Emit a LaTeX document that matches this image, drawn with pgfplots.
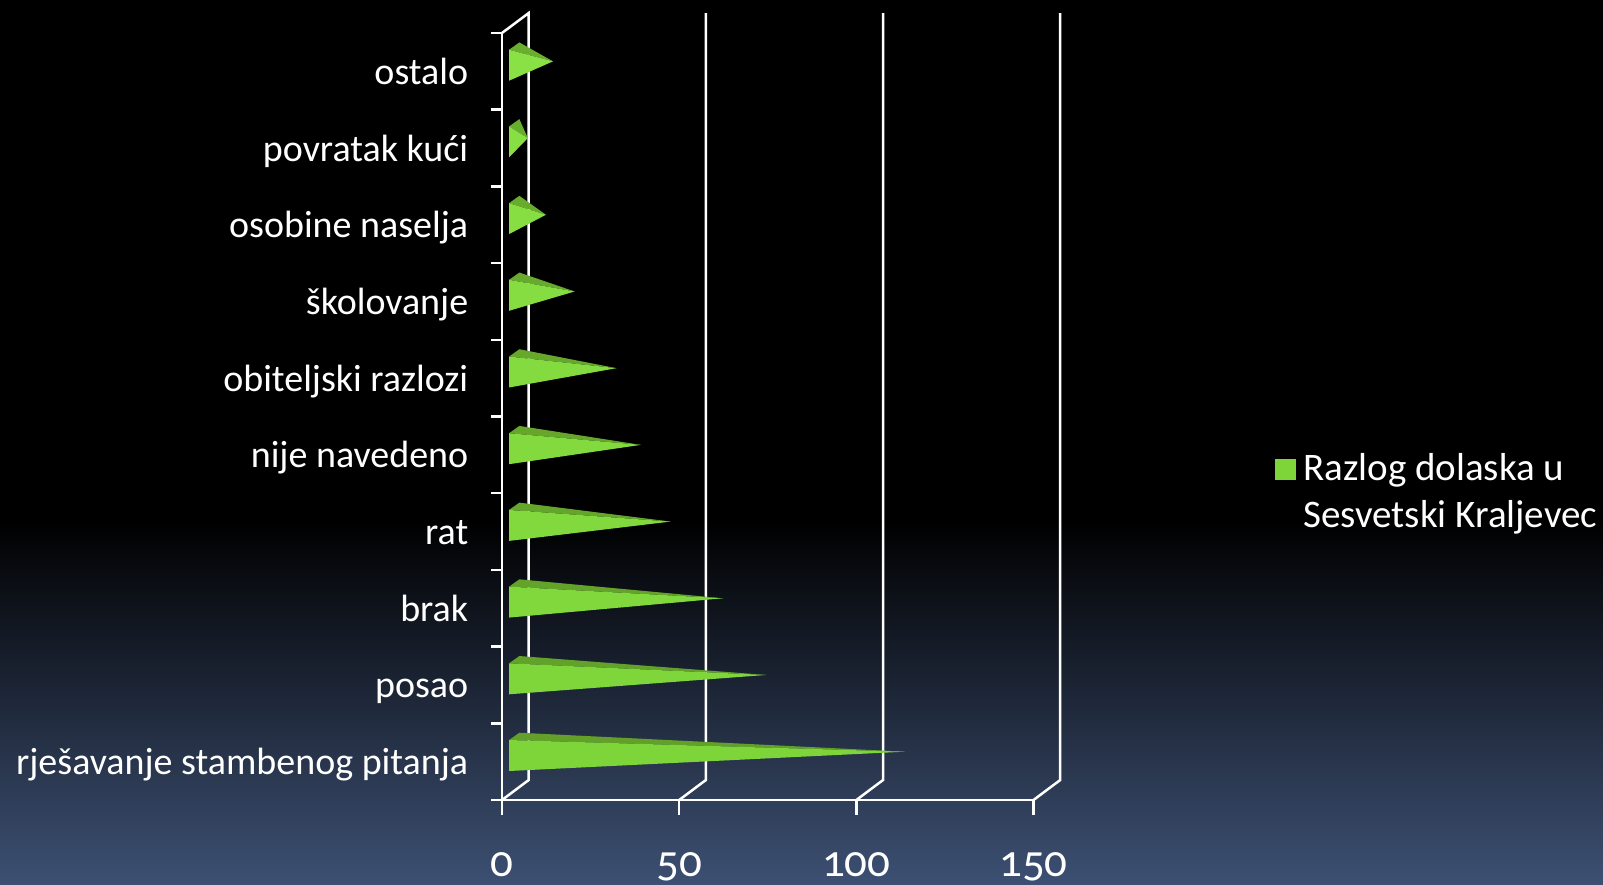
\documentclass[border=0pt]{standalone}
\usepackage{fontspec}
\setmainfont[Numbers=OldStyle]{Carlito}
\usepackage{pgfplots}
\pgfplotsset{compat=1.18}
\definecolor{bgbottom}{HTML}{3D5073}
\definecolor{frontlow}{HTML}{7DD53A}
\definecolor{fronthigh}{HTML}{8AE246}
\definecolor{toplow}{HTML}{62A029}
\definecolor{tophigh}{HTML}{6AB02F}
\pgfplotsset{
  front/.style={draw=none,fill=frontlow!#1!fronthigh,forget plot},
  roof/.style={draw=none,fill=toplow!#1!tophigh,forget plot},
  wall/.style={white,line width=2.5pt,forget plot},
}
\begin{document}
\begin{tikzpicture}[x=1pt,y=1pt]
\useasboundingbox (0,0) rectangle (1603,885);
\fill[black] (0,0) rectangle (1603,885);
\shade[top color=black,bottom color=bgbottom] (0,0) rectangle (1603,365);
\begin{axis}[
  at={(502pt,85pt)},anchor=south west,
  scale only axis,width=531.5pt,height=767pt,
  xmin=0,xmax=150,ymin=0,ymax=10,
  clip=false,
  axis lines=left,
  axis line style={white,line width=2.5pt,-},
  tick style={white,line width=2.5pt},
  tick align=outside,
  xtick={0,50,100,150},
  ytick={0,1,2,3,4,5,6,7,8,9,10},
  xtick style={/pgfplots/major tick length=15pt},
  ytick style={/pgfplots/major tick length=11pt},
  yticklabels={rješavanje stambenog pitanja,posao,brak,rat,nije navedeno,obiteljski razlozi,školovanje,osobine naselja,povratak kući,ostalo,{}},
  /pgf/number format/assume math mode=true,
  ticklabel style={text=white},
  xticklabel style={font=\fontsize{45}{50}\selectfont,yshift=-45pt},
  yticklabel style={font=\fontsize{38}{44}\selectfont,anchor=base east,xshift=-26pt,yshift=25.3pt},
  legend style={draw=none,fill=none,
    text=white,font=\fontsize{39}{47}\selectfont,
    nodes={align=left,inner ysep=0pt,inner xsep=7.5pt},legend cell align=left,
    anchor=north west,at={(axis cs:217.2,4.55)}},
  legend image code/.code={\fill[frontlow] (0pt,11pt) rectangle (21pt,32pt);},
]
\addplot[wall] coordinates {(0,0) (7.53,0.26) (7.53,10.26) (0,10)};
\addplot[wall] coordinates {(50,0) (57.53,0.26) (57.53,10.26)};
\addplot[wall] coordinates {(100,0) (107.53,0.26) (107.53,10.26)};
\addplot[wall] coordinates {(150,0) (157.53,0.26) (157.53,10.26)};
% rjesavanje stambenog pitanja
\addplot[roof=100] coordinates {(2,0.782) (4.9,0.877) (113.7,0.63)} --cycle;
\addplot[front=100] coordinates {(2,0.378) (2,0.782) (113.7,0.63)} --cycle;
% posao
\addplot[roof=90] coordinates {(2,1.782) (4.9,1.877) (74.5,1.63)} --cycle;
\addplot[front=90] coordinates {(2,1.378) (2,1.782) (74.5,1.63)} --cycle;
% brak
\addplot[roof=80] coordinates {(2,2.782) (4.9,2.877) (62.3,2.63)} --cycle;
\addplot[front=80] coordinates {(2,2.378) (2,2.782) (62.3,2.63)} --cycle;
% rat
\addplot[roof=70] coordinates {(2,3.782) (4.9,3.877) (47.6,3.63)} --cycle;
\addplot[front=70] coordinates {(2,3.378) (2,3.782) (47.6,3.63)} --cycle;
% nije navedeno
\addplot[roof=60] coordinates {(2,4.782) (4.9,4.877) (39.2,4.63)} --cycle;
\addplot[front=60] coordinates {(2,4.378) (2,4.782) (39.2,4.63)} --cycle;
% obiteljski razlozi
\addplot[roof=50] coordinates {(2,5.782) (4.9,5.877) (32.3,5.63)} --cycle;
\addplot[front=50] coordinates {(2,5.378) (2,5.782) (32.3,5.63)} --cycle;
% skolovanje
\addplot[roof=40] coordinates {(2,6.782) (4.9,6.877) (20.5,6.63)} --cycle;
\addplot[front=40] coordinates {(2,6.378) (2,6.782) (20.5,6.63)} --cycle;
% osobine naselja
\addplot[roof=30] coordinates {(2,7.782) (4.9,7.877) (12.4,7.63)} --cycle;
\addplot[front=30] coordinates {(2,7.378) (2,7.782) (12.4,7.63)} --cycle;
% povratak kuci
\addplot[roof=20] coordinates {(2,8.782) (4.9,8.877) (7.3,8.63)} --cycle;
\addplot[front=20] coordinates {(2,8.378) (2,8.782) (7.3,8.63)} --cycle;
% ostalo
\addplot[roof=10] coordinates {(2,9.782) (4.9,9.877) (14.4,9.63)} --cycle;
\addplot[front=10] coordinates {(2,9.378) (2,9.782) (14.4,9.63)} --cycle;
% legend only
\addplot[draw=none] coordinates {(0,0)};
\addlegendentry{Razlog dolaska u\\Sesvetski Kraljevec}
\end{axis}
\end{tikzpicture}
\end{document}
